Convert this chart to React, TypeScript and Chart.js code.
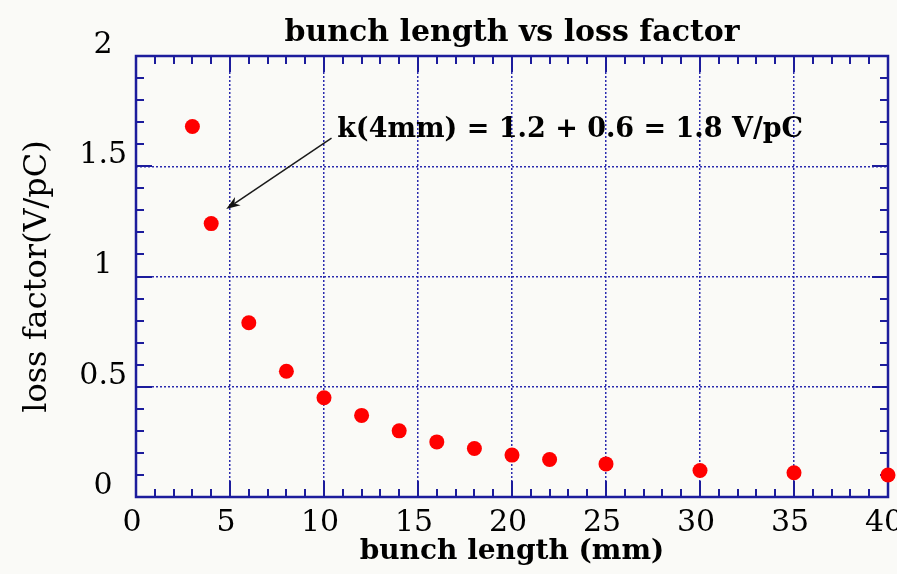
import { useEffect, useRef } from "react";
import { Chart, registerables } from "chart.js";

Chart.register(...registerables);

// ---- data ----
const bunchLength = [3, 4, 6, 8, 10, 12, 14, 16, 18, 20, 22, 25, 30, 35, 40];
const lossFactor = [1.68, 1.24, 0.79, 0.57, 0.45, 0.37, 0.3, 0.25, 0.22, 0.19, 0.17, 0.15, 0.12, 0.11, 0.1];

const xMin = 0;
const xMax = 40;
const xMajorStep = 5;
const xMinorStep = 1;
const yMin = 0;
const yMax = 2;
const yMajorStep = 0.5;
const yMinorStep = 0.1;

const titleText = "bunch length vs loss factor";
const xTitleText = "bunch length (mm)";
const yTitleText = "loss factor(V/pC)";
const annotationText = "k(4mm) = 1.2 + 0.6 = 1.8 V/pC";
const annotationTextAt = { x: 10.7, y: 1.665 };
const arrowFrom = { x: 10.4, y: 1.628 };
const arrowTo = { x: 4.8, y: 1.306 };

const NAVY = "#1c1c9c";
const GRID = "#2a2aae";
const BG = "#fafaf7";
const FONT = "'DejaVu Serif', serif";

const decorPlugin = {
  id: "decor",
  beforeDraw(chart: any) {
    const { ctx, width, height } = chart;
    ctx.save();
    ctx.fillStyle = BG;
    ctx.fillRect(0, 0, width, height);
    ctx.restore();
  },
  beforeDatasetsDraw(chart: any) {
    const { ctx, chartArea: a, scales } = chart;
    const x = scales.x;
    const y = scales.y;
    ctx.save();
    ctx.strokeStyle = NAVY;
    ctx.lineWidth = 2;
    ctx.beginPath();
    const nx = Math.round((xMax - xMin) / xMinorStep);
    for (let i = 0; i <= nx; i++) {
      const v = xMin + i * xMinorStep;
      const px = Math.round(x.getPixelForValue(v));
      const major = Math.abs(v / xMajorStep - Math.round(v / xMajorStep)) < 1e-6;
      const len = major ? 16 : 8;
      ctx.moveTo(px, a.bottom);
      ctx.lineTo(px, a.bottom - len);
      ctx.moveTo(px, a.top);
      ctx.lineTo(px, a.top + len);
    }
    const ny = Math.round((yMax - yMin) / yMinorStep);
    for (let i = 0; i <= ny; i++) {
      const v = yMin + i * yMinorStep;
      const py = Math.round(y.getPixelForValue(v));
      const major = Math.abs(v / yMajorStep - Math.round(v / yMajorStep)) < 1e-6;
      const len = major ? 16 : 8;
      ctx.moveTo(a.left, py);
      ctx.lineTo(a.left + len, py);
      ctx.moveTo(a.right, py);
      ctx.lineTo(a.right - len, py);
    }
    ctx.stroke();
    ctx.lineWidth = 2.5;
    ctx.strokeRect(a.left, a.top, a.right - a.left, a.bottom - a.top);
    ctx.restore();
  },
  afterDatasetsDraw(chart: any) {
    const { ctx, scales } = chart;
    const x = scales.x;
    const y = scales.y;
    ctx.save();
    // arrow
    const x1 = x.getPixelForValue(arrowFrom.x);
    const y1 = y.getPixelForValue(arrowFrom.y);
    const x2 = x.getPixelForValue(arrowTo.x);
    const y2 = y.getPixelForValue(arrowTo.y);
    const ang = Math.atan2(y2 - y1, x2 - x1);
    const headLen = 14;
    const headW = 5;
    ctx.strokeStyle = "#1a1a1a";
    ctx.fillStyle = "#111";
    ctx.lineWidth = 1.5;
    ctx.beginPath();
    ctx.moveTo(x1, y1);
    ctx.lineTo(x2 - Math.cos(ang) * headLen * 0.7, y2 - Math.sin(ang) * headLen * 0.7);
    ctx.stroke();
    ctx.beginPath();
    ctx.moveTo(x2, y2);
    ctx.lineTo(
      x2 - Math.cos(ang) * headLen - Math.sin(ang) * headW,
      y2 - Math.sin(ang) * headLen + Math.cos(ang) * headW
    );
    ctx.lineTo(x2 - Math.cos(ang) * headLen * 0.7, y2 - Math.sin(ang) * headLen * 0.7);
    ctx.lineTo(
      x2 - Math.cos(ang) * headLen + Math.sin(ang) * headW,
      y2 - Math.sin(ang) * headLen - Math.cos(ang) * headW
    );
    ctx.closePath();
    ctx.fill();
    // text
    ctx.fillStyle = "#000";
    ctx.font = `bold 27px ${FONT}`;
    ctx.textAlign = "left";
    ctx.textBaseline = "middle";
    ctx.fillText(annotationText, x.getPixelForValue(annotationTextAt.x), y.getPixelForValue(annotationTextAt.y));
    ctx.restore();
  },
};

export default function App() {
  const canvasRef = useRef<HTMLCanvasElement | null>(null);

  useEffect(() => {
    const canvas = canvasRef.current;
    if (!canvas) return;
    const chart = new Chart(canvas, {
      type: "scatter",
      data: {
        datasets: [
          {
            data: bunchLength.map((v, i) => ({ x: v, y: lossFactor[i] })),
            backgroundColor: "#ff0000",
            borderWidth: 0,
            pointRadius: 7.5,
            pointHoverRadius: 7.5,
            clip: false,
          } as any,
        ],
      },
      options: {
        responsive: false,
        animation: false,
        events: [],
        layout: { padding: { top: 0, right: 9, bottom: 0, left: 0 } },
        plugins: {
          legend: { display: false },
          tooltip: { enabled: false },
          title: {
            display: true,
            text: titleText,
            fullSize: false,
            color: "#000",
            font: { family: FONT, size: 30, weight: "bold" },
            padding: { top: 15, bottom: 5 },
          },
        },
        scales: {
          x: {
            type: "linear",
            min: xMin,
            max: xMax,
            afterFit(s: any) {
              s.height = 77;
              s.paddingLeft = 0;
              s.paddingRight = 0;
            },
            ticks: {
              stepSize: xMajorStep,
              autoSkip: false,
              maxRotation: 0,
              labelOffset: -4,
              padding: 8,
              color: "#000",
              font: { family: FONT, size: 30 },
              callback: (v: any) => String(Number(v)),
            },
            grid: { color: GRID, lineWidth: 1.5, drawTicks: false },
            border: { display: false, dash: [2, 2] },
            title: {
              display: true,
              text: xTitleText,
              color: "#000",
              font: { family: FONT, size: 28, weight: "bold" },
              padding: { top: 0, bottom: 5 },
            },
          },
          y: {
            type: "linear",
            min: yMin,
            max: yMax,
            afterFit(s: any) {
              s.width = 136;
              s.paddingTop = 0;
              s.paddingBottom = 0;
            },
            ticks: {
              stepSize: yMajorStep,
              autoSkip: false,
              labelOffset: -11,
              crossAlign: "center",
              padding: 9,
              color: "#000",
              font: { family: FONT, size: 30 },
              callback: (v: any) => String(Number(v)),
            },
            grid: { color: GRID, lineWidth: 1.5, drawTicks: false },
            border: { display: false, dash: [2, 2] },
            title: {
              display: true,
              text: yTitleText,
              color: "#000",
              font: { family: FONT, size: 32 },
              padding: { top: 18, bottom: 0 },
            },
          },
        },
      } as any,
      plugins: [decorPlugin],
    });
    return () => chart.destroy();
  }, []);

  return (
    <div style={{ position: "fixed", left: 0, top: 0, width: 897, height: 574, background: BG }}>
      <canvas ref={canvasRef} width={897} height={574} style={{ display: "block" }} />
    </div>
  );
}
